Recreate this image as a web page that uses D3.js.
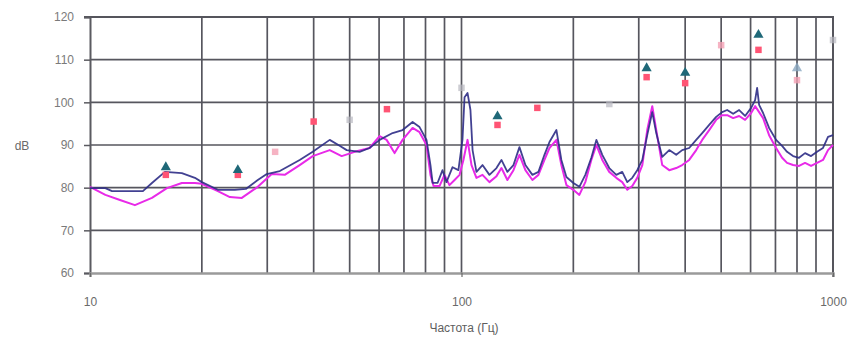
<!DOCTYPE html>
<html>
<head>
<meta charset="utf-8">
<script src="https://cdn.jsdelivr.net/npm/d3@7"></script>
<style>
  html, body { margin: 0; padding: 0; background: #fff; }
  svg { display: block; }
  text { font-family: "Liberation Sans", Arial, sans-serif; }
</style>
</head>
<body>
<svg id="chart" width="854" height="342"></svg>
<script>
// Spectrum of sound pressure level, two measurements (Hz, dB)
const freqA = [10, 11.0, 11.46, 13.88, 14.68, 15.91, 17.67, 19.16, 20.0, 22.09, 24.54, 26.27, 28.29, 29.91,
  32.43, 36.68, 39.77, 44.18, 46.99, 49.08, 53.18, 56.56, 60.2, 65.25, 69.4, 73.85, 77.1, 80.5, 82.5, 83.6,
  86.2, 88.9, 91.1, 94.6, 98.1, 100.6, 101.9, 103.8, 105.7, 107.1, 109.7, 113.9, 118.9, 124.2, 128.1, 132.9,
  138.0, 143.2, 148.6, 155.2, 161.1, 167.2, 172.5, 180.1, 185.7, 191.6, 200.0, 207.6, 215.4, 223.6, 230.7,
  239.3, 249.9, 261.0, 270.8, 279.4, 288.2, 297.2, 306.7, 316.2, 326.2, 334.4, 347.0, 362.4, 378.4, 392.7,
  410.1, 428.3, 444.5, 464.2, 484.7, 503.0, 518.9, 538.6, 558.9, 579.9, 602.1, 617.1, 624.8, 632.6, 648.4,
  673.0, 702.8, 729.4, 752.2, 780.7, 810.2, 840.9, 872.9, 905.8, 940.0, 969.6, 1000];
const levelA = [79.9, 79.9, 79.2, 79.2, 81.1, 83.7, 83.4, 82.3, 81.3, 79.5, 79.5, 79.7, 81.8, 83.2,
  83.9, 86.5, 88.4, 91.2, 89.8, 88.8, 88.4, 89.3, 91.2, 92.8, 93.5, 95.4, 94.2, 91.2, 85.3, 81.1,
  81.1, 84.1, 81.3, 84.8, 84.1, 91.2, 101.2, 102.2, 98.2, 88.8, 83.7, 85.3, 83.0, 84.6, 86.5, 83.7,
  85.3, 89.5, 85.3, 83.0, 83.7, 87.7, 90.7, 93.5, 86.5, 82.5, 81.1, 80.2, 83.0, 87.0, 91.2,
  87.7, 84.6, 83.0, 83.7, 81.3, 82.3, 84.1, 86.5, 92.3, 97.7, 92.8, 87.2, 88.8, 87.7, 88.8,
  89.3, 91.2, 92.8, 94.7, 96.6, 97.7, 98.2, 97.3, 98.2, 96.8, 98.7, 100.5, 103.4, 99.4, 97.5,
  94.0, 91.2, 89.8, 88.4, 87.4, 87.0, 88.1, 87.4, 88.4, 89.3, 91.9, 92.3];

const freqB = [10, 11.0, 12.04, 13.21, 14.68, 16.11, 17.67, 19.16, 20.0, 22.09, 23.79, 25.62, 28.29, 30.85,
  33.43, 36.68, 39.77, 44.18, 47.58, 51.58, 56.56, 60.2, 62.87, 66.05, 69.4, 73.85, 77.1, 80.5, 82.5, 84.1,
  87.3, 90.0, 92.8, 95.8, 98.8, 101.2, 103.8, 106.4, 109.7, 113.9, 118.9, 124.2, 128.1, 132.9, 138.0, 143.2,
  148.6, 155.2, 161.1, 167.2, 172.5, 180.1, 185.7, 191.6, 200.0, 207.6, 215.4, 223.6, 230.7, 239.3, 249.9,
  261.0, 270.8, 279.4, 288.2, 297.2, 306.7, 316.2, 326.2, 334.4, 347.0, 362.4, 378.4, 392.7, 410.1, 428.3,
  444.5, 464.2, 484.7, 503.0, 518.9, 538.6, 558.9, 579.9, 602.1, 617.1, 632.6, 648.4, 673.0, 702.8, 729.4,
  752.2, 780.7, 810.2, 840.9, 872.9, 905.8, 940.0, 969.6, 1000];
const levelB = [80.2, 78.3, 77.1, 75.9, 77.6, 79.9, 81.1, 81.1, 80.9, 79.2, 77.8, 77.6, 80.2, 83.2,
  83.0, 85.3, 87.4, 88.8, 87.4, 88.4, 89.3, 92.1, 91.2, 88.1, 91.2, 94.0, 93.0, 90.0, 83.0, 80.4,
  80.4, 83.0, 80.6, 81.8, 83.0, 86.5, 91.2, 85.3, 82.3, 83.0, 81.3, 82.7, 84.6, 81.8, 84.1, 87.7,
  84.1, 81.8, 83.0, 86.5, 89.3, 91.2, 85.3, 80.6, 79.5, 78.3, 81.3, 86.5, 90.0, 86.5, 83.7,
  82.3, 81.3, 79.5, 80.4, 82.3, 85.3, 93.5, 99.1, 93.5, 85.3, 84.1, 84.6, 85.3, 86.5, 88.8,
  91.2, 93.5, 95.9, 97.0, 97.0, 96.3, 96.8, 95.9, 97.5, 99.1, 97.7, 96.3, 92.3, 89.3, 87.0,
  85.8, 85.3, 85.1, 85.8, 85.1, 85.8, 86.5, 88.8, 90.0];

// Third-octave band levels
const bandFreqA = [16, 25, 125, 315, 400, 630];
const bandLevelA = [84.8, 84.1, 96.7, 108.0, 106.9, 115.8];
const bandFreqB = [16, 25, 40, 63, 125, 160, 315, 400, 630];
const bandLevelB = [83.0, 83.0, 95.5, 98.4, 94.7, 98.7, 105.9, 104.5, 112.3];
// Faint band readings
const paleFreqA = [800];
const paleLevelA = [108.0];
const paleFreqB = [31.5, 500, 800];
const paleLevelB = [88.4, 113.4, 105.2];
const paleFreqC = [50, 100, 250, 1000];
const paleLevelC = [95.9, 103.4, 99.6, 114.6];

const yTicks = [60, 70, 80, 90, 100, 110, 120];
const xTickLabels = [10, 100, 1000];
const xGrid = [20, 30, 40, 50, 60, 70, 80, 90, 100, 200, 300, 400, 500, 600, 700, 800, 900];
const xTitle = "Частота (Гц)";
const yTitle = "dB";

const svg = d3.select("#chart");
const plotL = 90, plotR = 833, plotT = 17, plotB = 273;

const x = d3.scaleLog().domain([10, 1000]).range([plotL, plotR]);
const y = d3.scaleLinear().domain([60, 120]).range([plotB, plotT]);

const grid = svg.append("g");
// vertical grid lines
grid.selectAll("line.v").data(xGrid).join("line")
  .attr("x1", d => x(d)).attr("x2", d => x(d))
  .attr("y1", plotT).attr("y2", plotB)
  .attr("stroke", "#56565e").attr("stroke-width", 1.7);
// horizontal grid lines
grid.selectAll("line.h").data(yTicks.filter(v => v > 60 && v < 120)).join("line")
  .attr("x1", plotL).attr("x2", plotR)
  .attr("y1", d => y(d)).attr("y2", d => y(d))
  .attr("stroke", "#56565e").attr("stroke-width", 1.6);

// plot frame
grid.append("line").attr("x1", plotL - 6).attr("x2", plotR + 1).attr("y1", plotT).attr("y2", plotT)
  .attr("stroke", "#55555c").attr("stroke-width", 2);
grid.append("line").attr("x1", plotR).attr("x2", plotR).attr("y1", plotT).attr("y2", plotB + 4)
  .attr("stroke", "#55555c").attr("stroke-width", 2);

// y axis
const yAxis = d3.axisLeft(y).tickValues(yTicks).tickSize(6).tickPadding(10);
const gy = svg.append("g").attr("transform", `translate(${plotL},0)`).call(yAxis);
gy.select(".domain").attr("stroke", "#5a5a60").attr("stroke-width", 2);
gy.selectAll(".tick line").attr("stroke", "#5a5a60").attr("stroke-width", 1.5);
gy.selectAll(".tick text").attr("fill", "#7a7a7a").attr("font-size", 12);

// x axis
const xAxis = d3.axisBottom(x).tickValues(xTickLabels).tickFormat(d3.format("d")).tickSize(4).tickPadding(20);
const gx = svg.append("g").attr("transform", `translate(0,${plotB})`).call(xAxis);
gx.select(".domain").attr("stroke", "#9a9a9a").attr("stroke-width", 2.5);
gx.selectAll(".tick line").attr("stroke", "#6a6a6a").attr("stroke-width", 1.2);
gx.selectAll(".tick text").attr("fill", "#6a6a6a").attr("font-size", 12);

svg.append("text").attr("x", 464).attr("y", 332).attr("text-anchor", "middle")
  .attr("fill", "#5e5e5e").attr("font-size", 12).text(xTitle);
svg.append("text").attr("x", 22).attr("y", 150).attr("text-anchor", "middle")
  .attr("fill", "#6a6a6a").attr("font-size", 12).text(yTitle);

// spectrum lines
const line = d3.line().x(d => x(d[0])).y(d => y(d[1]));
svg.append("path").datum(d3.zip(freqB, levelB))
  .attr("d", line).attr("fill", "none")
  .attr("stroke", "#e82ae8").attr("stroke-width", 2).attr("stroke-linejoin", "round");
svg.append("path").datum(d3.zip(freqA, levelA))
  .attr("d", line).attr("fill", "none")
  .attr("stroke", "#2e2c86").attr("stroke-width", 1.8).attr("stroke-linejoin", "round")
  .attr("opacity", 0.9);

// band markers
const tri = d3.symbol().type(d3.symbolTriangle).size(45);
const sq = d3.symbol().type(d3.symbolSquare).size(42);
function markers(fs, ls, sym, color, op) {
  svg.append("g").selectAll("path").data(d3.zip(fs, ls)).join("path")
    .attr("transform", d => `translate(${x(d[0])},${y(d[1])})`)
    .attr("d", sym).attr("fill", color).attr("opacity", op);
}
markers(bandFreqB, bandLevelB, sq, "#ff5474", 1);
markers(bandFreqA, bandLevelA, tri, "#1f6878", 1);
markers(paleFreqB, paleLevelB, sq, "#f4a0b4", 0.8);
markers(paleFreqA, paleLevelA, tri, "#8aa8c0", 0.8);
markers(paleFreqC, paleLevelC, sq, "#b8b8c0", 0.7);
</script>
</body>
</html>
